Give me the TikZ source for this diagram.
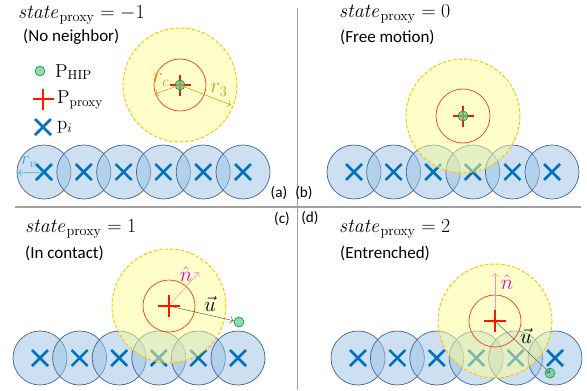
\RequirePackage{fix-cm}
\documentclass[tikz,border=0pt]{standalone}
\usepackage{amsmath}
\usepackage[no-math]{fontspec}
\setmainfont{Carlito}
\usetikzlibrary{arrows.meta,positioning}
\definecolor{pblue}{RGB}{0,112,192}
\definecolor{cfill}{RGB}{155,194,230}
\definecolor{cdraw}{RGB}{65,100,145}
\definecolor{yfill}{RGB}{255,255,150}
\definecolor{ydraw}{RGB}{255,192,0}
\definecolor{rline}{RGB}{255,60,20}
\definecolor{rplus}{RGB}{255,20,0}
\definecolor{gfill}{RGB}{110,200,140}
\definecolor{gdraw}{RGB}{0,150,70}
\definecolor{nmag}{RGB}{240,0,200}
\definecolor{narr}{RGB}{255,140,200}
\definecolor{rccol}{RGB}{232,140,40}
\definecolor{rthr}{RGB}{195,160,15}
\definecolor{rvcol}{RGB}{50,165,235}
\definecolor{sepcol}{RGB}{160,160,160}
\tikzset{
  vcirc/.style={draw=cdraw, fill=cfill, fill opacity=0.5, line width=0.6pt},
  pmark/.style={draw=pblue, line width=2.2pt},
  yzone/.style={draw=ydraw, fill=yfill, fill opacity=0.5, line width=0.8pt,
                dash pattern=on 3pt off 1.6pt},
  rzone/.style={draw=rline, line width=0.6pt},
  pplus/.style={draw=rplus, line width=2.2pt},
  hip/.style={circle, draw=gdraw, fill=gfill, fill opacity=0.75, line width=0.5pt,
              minimum size=0.3cm, inner sep=0pt},
  ttl/.style={anchor=west, inner sep=0pt, font=\fontsize{17}{19}\selectfont},
  sub/.style={anchor=west, inner sep=0pt, font=\fontsize{14.5}{17}\selectfont},
  tag/.style={inner sep=0pt, font=\fontsize{13}{15}\selectfont},
  leg/.style={anchor=west, inner sep=0pt, font=\fontsize{16}{18}\selectfont},
  mlbl/.style={inner sep=0pt, font=\fontsize{18}{20}\selectfont},
  arr/.style={-{To[length=3pt]}, line width=0.45pt},
  sepline/.style={draw=sepcol, line width=1.7pt},
}

\begin{document}
\begin{tikzpicture}[x=0.03cm, y=-0.03cm]
\useasboundingbox (0,0) rectangle (587,390);

% ============================ dividers ==================================
\draw[sepline] (297.5,8) -- (297.5,390);
\draw[sepline] (15,207) -- (581,207);

% ============================ (a) no neighbor ============================
\foreach \i in {0,...,5}
  \draw[vcirc] (44+39.8*\i,172) circle[radius=27];
\foreach \i in {0,...,5}
  \draw[pmark] (44+39.8*\i,172) ++(-8,-8) -- ++(16,16) ++(-16,0) -- ++(16,-16);
\coordinate (va) at (44,172);
\coordinate (vl) at (18,173);
\draw[arr, draw=rvcol] (va) -- (vl);
\node[mlbl, text=rvcol, font=\fontsize{16}{18}\selectfont] (rv) at (29,162) {$r_v$};

\coordinate (pa) at (180,85);
\draw[yzone] (pa) circle[radius=57];
\draw[rzone] (pa) circle[radius=26];
\draw[pplus] (pa) ++(-10.5,0) -- ++(21,0) (pa) ++(0,-10.5) -- ++(0,21);
\node[hip] (ha) at (pa) {};
\coordinate (ca) at (155,94);
\coordinate (ta) at (231,105);
\draw[arr, draw=rccol] (pa) -- (ca);
\draw[arr, draw=rthr] (pa) -- (ta);
\node[mlbl, text=rccol] (rc) at (161,80) {$r_c$};
\node[mlbl, text=rthr] (r3) at (219,90) {$r_3$};

\node[ttl] (sa) at (18,15) {$\mathit{state}_{\mathrm{proxy}} = -1$};
\node[sub] (na) at (23,37) {(No neighbor)};
\node[tag] (la) at (279,193) {(a)};

% legend
\node[hip] (lh) at (40,71) {};
\node[leg] (lht) at (55,72) {$\mathrm{P}_{\mathrm{HIP}}$};
\coordinate (lp) at (43,99);
\draw[pplus] (lp) ++(-10.5,0) -- ++(21,0) (lp) ++(0,-10.5) -- ++(0,21);
\node[leg] (lpt) at (57,100) {$\mathrm{P}_{\mathrm{proxy}}$};
\coordinate (lx) at (43,127);
\draw[pmark] (lx) ++(-8,-8) -- ++(16,16) ++(-16,0) -- ++(16,-16);
\node[leg] (lxt) at (57,127) {$\mathrm{p}_i$};

% ============================ (b) free motion ===========================
\foreach \i in {0,...,5}
  \draw[vcirc] (354+39.6*\i,172) circle[radius=27];
\foreach \i in {0,...,5}
  \draw[pmark] (354+39.6*\i,172) ++(-8,-8) -- ++(16,16) ++(-16,0) -- ++(16,-16);

\coordinate (pb) at (463,116);
\draw[yzone] (pb) circle[radius=57];
\draw[rzone] (pb) circle[radius=27];
\draw[pplus] (pb) ++(-10.5,0) -- ++(21,0) (pb) ++(0,-10.5) -- ++(0,21);
\node[hip] (hb) at (pb) {};

\node[ttl] (sb) at (339,14) {$\mathit{state}_{\mathrm{proxy}} = 0$};
\node[sub] (nb) at (340,37) {(Free motion)};
\node[tag] (lb) at (304,193) {(b)};

% ============================ (c) in contact ============================
\foreach \i in {0,...,5}
  \draw[vcirc] (40+39.6*\i,358) circle[radius=27];
\foreach \i in {0,...,5}
  \draw[pmark] (40+39.6*\i,358) ++(-8,-8) -- ++(16,16) ++(-16,0) -- ++(16,-16);

\coordinate (pc) at (169,306);
\draw[yzone] (pc) circle[radius=57];
\draw[rzone] (pc) circle[radius=26];
\node[hip] (hc) at (239,322) {};
\coordinate (nc) at (199,272);
\draw[arr, draw=narr] (pc) -- (nc);
\draw[arr, draw=black!60] (pc) -- (hc);
\draw[pplus] (pc) ++(-11,0) -- ++(22,0) (pc) ++(0,-11) -- ++(0,22);
\node[mlbl, text=nmag] (nhc) at (186,274) {$\hat{n}$};
\node[mlbl] (uc) at (210,304) {$\vec{u}$};

\node[ttl] (sc) at (25,229) {$\mathit{state}_{\mathrm{proxy}} = 1$};
\node[sub] (ncx) at (25,253) {(In contact)};
\node[tag] (lc) at (282,219) {(c)};

% ============================ (d) entrenched ============================
\foreach \i in {0,...,5}
  \draw[vcirc] (358+39.4*\i,358) circle[radius=27];
\foreach \i in {0,...,5}
  \draw[pmark] (358+39.4*\i,358) ++(-8,-8) -- ++(16,16) ++(-16,0) -- ++(16,-16);

\coordinate (pd) at (495,321);
\draw[yzone] (pd) circle[radius=57];
\draw[rzone] (pd) circle[radius=26];
\node[hip] (hd) at (550,373) {};
\coordinate (nd) at (495,273);
\draw[arr, draw=narr] (pd) -- (nd);
\draw[arr, draw=black!60] (pd) -- (hd.center);
\draw[pplus] (pd) ++(-11,0) -- ++(22,0) (pd) ++(0,-11) -- ++(0,22);
\node[mlbl, text=nmag] (nhd) at (507,282) {$\hat{n}$};
\node[mlbl] (ud) at (526,336) {$\vec{u}$};

\node[ttl] (sd) at (339,229) {$\mathit{state}_{\mathrm{proxy}} = 2$};
\node[sub] (ndx) at (340,253) {(Entrenched)};
\node[tag] (ld) at (310,218) {(d)};

\end{tikzpicture}
\end{document}
